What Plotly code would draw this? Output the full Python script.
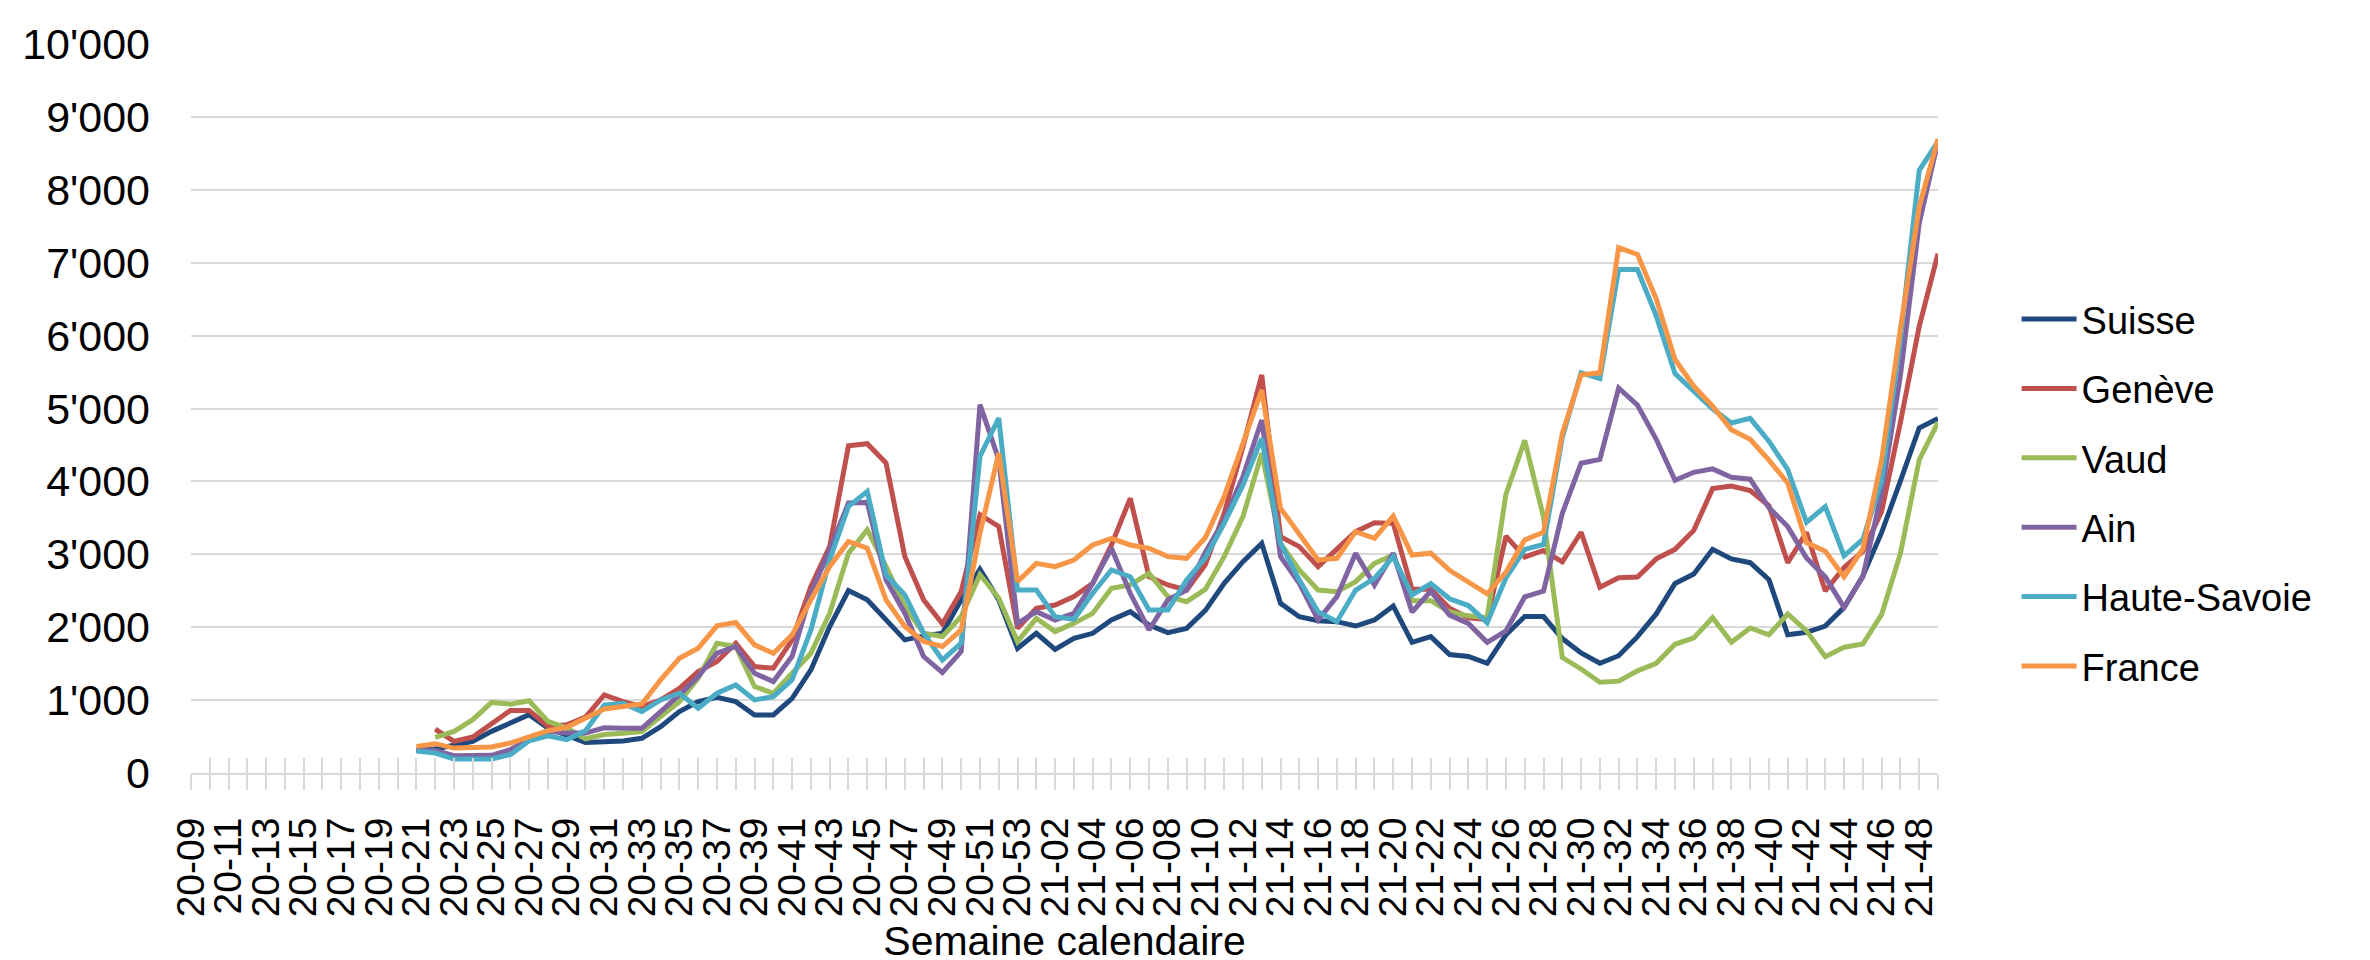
import plotly.graph_objects as go

# Categories: calendar weeks 20-09 .. 20-53, 21-01 .. 21-49
weeks = [f"20-{w:02d}" for w in range(9, 54)] + [f"21-{w:02d}" for w in range(1, 50)]
start = "20-21"  # first week with data

suisse = [310, 330, 380, 434, 571, 685, 800, 616, 520, 420, 430,
          439, 476, 636, 842, 979, 1039, 979, 796, 796, 1025,
          1414, 2009, 2503, 2375, 2101, 1826, 1881, 1918, 2375, 2796, 2375,
          1710, 1916, 1696, 1847, 1916, 2099, 2213, 2030, 1925, 1984, 2230,
          2602, 2899, 3150, 2327, 2144, 2090, 2076, 2016, 2099, 2291,
          1792, 1870, 1625, 1599, 1505, 1896, 2146, 2146, 1844, 1646, 1505,
          1609, 1870, 2182, 2599, 2729, 3068, 2937, 2885, 2651, 1896, 1930,
          2015, 2272, 2703, 3300, 4007, 4733, 4862]
geneve = [None, 603, 434, 493, 685, 858, 858, 639, 662, 767, 1071,
          979, 911, 1002, 1162, 1391, 1529, 1780, 1460, 1437, 1826,
          2558, 3108, 4490, 4517, 4252, 2970, 2375, 2046, 2490, 3542, 3382,
          1984, 2259, 2305, 2419, 2602, 3128, 3768, 2693, 2579, 2510, 2860,
          3562, 4476, 5460, 3242, 3105, 2830, 3082, 3311, 3434, 3425,
          2521, 2521, 2260, 2130, 2104, 3250, 2963, 3052, 2896, 3302, 2547,
          2677, 2687, 2937, 3068, 3328, 3901, 3937, 3875, 3667, 2885, 3300,
          2497, 2819, 3040, 3589, 4810, 6127, 7124]
vaud = [None, 489, 571, 731, 968, 945, 991, 708, 616, 470, 528,
        545, 567, 773, 979, 1300, 1780, 1735, 1185, 1094, 1368,
        1643, 2192, 3016, 3336, 2833, 2284, 1918, 1872, 2146, 2719, 2400,
        1802, 2122, 1939, 2053, 2190, 2533, 2579, 2739, 2419, 2350, 2520,
        2968, 3516, 4385, 3150, 2785, 2510, 2487, 2625, 2876, 2990,
        2364, 2364, 2208, 2156, 2130, 3823, 4562, 3510, 1583, 1427, 1245,
        1260, 1401, 1505, 1766, 1854, 2130, 1792, 1989, 1896, 2182, 1950,
        1596, 1725, 1770, 2175, 3011, 4296, 4810]
ain = [329, 310, 237, 242, 242, 320, 466, 571, 548, 548, 620,
       613, 613, 842, 1071, 1323, 1643, 1735, 1368, 1254, 1600,
       2467, 3062, 3703, 3712, 2650, 2192, 1597, 1378, 1666, 5053, 4300,
       2053, 2213, 2099, 2190, 2602, 3082, 2465, 1962, 2373, 2510, 3030,
       3471, 4065, 4842, 2968, 2602, 2099, 2419, 3013, 2579, 3013,
       2208, 2495, 2166, 2052, 1792, 1948, 2416, 2495, 3562, 4250, 4302,
       5281, 5047, 4578, 4015, 4125, 4172, 4057, 4031, 3640, 3380, 2950,
       2690, 2272, 2690, 3846, 5453, 7541, 8666]
haute_savoie = [301, 274, 192, 192, 192, 251, 443, 511, 457, 580, 930,
                957, 842, 1002, 1094, 888, 1094, 1208, 1002, 1048, 1277,
                1963, 2924, 3657, 3863, 2719, 2444, 1918, 1551, 1780, 4343, 4870,
                2510, 2510, 2145, 2108, 2465, 2785, 2693, 2236, 2236, 2648, 2950,
                3425, 3951, 4591, 3150, 2647, 2213, 2076, 2510, 2670, 2968,
                2443, 2599, 2390, 2297, 2062, 2677, 3068, 3135, 4604, 5489, 5411,
                6906, 6906, 6270, 5479, 5229, 4995, 4802, 4864, 4552, 4161, 3440,
                3654, 2979, 3204, 4007, 5967, 8267, 8666]
france = [365, 402, 342, 352, 356, 411, 502, 580, 626, 753, 878,
          911, 947, 1277, 1574, 1712, 2018, 2064, 1757, 1643, 1895,
          2375, 2833, 3176, 3085, 2375, 2009, 1803, 1735, 1963, 3291, 4389,
          2625, 2876, 2830, 2922, 3128, 3219, 3128, 3082, 2968, 2945, 3230,
          3791, 4522, 5254, 3631, 3288, 2922, 2945, 3311, 3219, 3525,
          2989, 3015, 2781, 2625, 2458, 2755, 3198, 3302, 4656, 5463, 5489,
          7208, 7114, 6505, 5672, 5307, 5031, 4708, 4578, 4291, 3979, 3160,
          3043, 2690, 3075, 4296, 6095, 7766, 8698]

series_names = ["Suisse", "Genève", "Vaud", "Ain", "Haute-Savoie", "France"]
series_values = [suisse, geneve, vaud, ain, haute_savoie, france]
colors = ["#1F497D", "#C0504D", "#9BBB59", "#8064A2", "#4BACC6", "#F79646"]

x_data = weeks[weeks.index(start):]
tick_text = [w if k % 2 == 0 else "" for k, w in enumerate(weeks)]

NARROW = "Liberation Sans Narrow, Arial Narrow, Liberation Sans, Arial, sans-serif"
SANS = "Liberation Sans, Arial, sans-serif"
GRID = "#D9D9D9"

fig = go.Figure()
for name, vals, col in zip(series_names, series_values, colors):
    fig.add_trace(go.Scatter(
        x=x_data, y=vals, name=name, mode="lines", legendgroup=name,
        line=dict(color=col, width=5), connectgaps=False,
    ))

# helper trace for inner half of crossing tick marks
fig.add_trace(go.Scatter(x=weeks, y=[None] * len(weeks), xaxis="x2",
                         showlegend=False, hoverinfo="skip", mode="lines"))

fig.update_layout(
    width=2370, height=960,
    margin=dict(l=183, r=440, t=34, b=194),
    paper_bgcolor="white", plot_bgcolor="white",
    separators=".'",
    font=dict(family=SANS, color="black"),
    xaxis=dict(
        type="category", categoryorder="array", categoryarray=weeks,
        range=[0, len(weeks) - 1],
        tickmode="array", tickvals=weeks, ticktext=tick_text,
        tickangle=-90, tickfont=dict(family=SANS, size=39, color="black"),
        ticks="outside", ticklen=15, tickwidth=2, tickcolor=GRID,
        showline=True, linecolor=GRID, linewidth=2, showgrid=False,
        ticklabelstandoff=12,
        title=dict(text="Semaine calendaire", font=dict(family=NARROW, size=41, color="black"),
                   standoff=10),
    ),
    xaxis2=dict(
        type="category", categoryorder="array", categoryarray=weeks,
        overlaying="x", matches="x", anchor="y", side="bottom",
        tickmode="array", tickvals=weeks, showticklabels=False,
        ticks="inside", ticklen=15, tickwidth=2, tickcolor=GRID,
        showline=False, showgrid=False,
    ),
    yaxis=dict(
        range=[0, 10000], dtick=1000, tickformat=",d",
        showgrid=True, gridcolor=GRID, gridwidth=2,
        zeroline=False, showline=False, ticks="",
        tickfont=dict(family=NARROW, size=43, color="black"),
        ticklabelstandoff=40,
    ),
    legend=dict(
        xref="container", yref="container", x=0.8475, y=0.495,
        xanchor="left", yanchor="middle",
        font=dict(family=SANS, size=38, color="black"),
        tracegroupgap=17, itemwidth=55, bgcolor="rgba(0,0,0,0)",
    ),
)

fig.write_html("out.html")
